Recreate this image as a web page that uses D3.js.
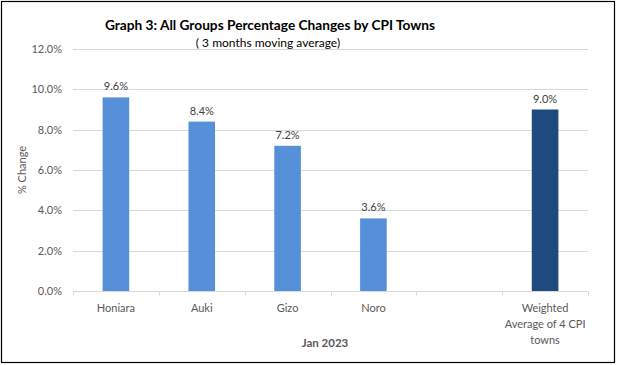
<!DOCTYPE html>
<html>
<head>
<meta charset="utf-8">
<script src="https://cdn.jsdelivr.net/npm/d3@7"></script>
<style>
  body { margin: 0; background: #fff; }
  text { font-family: Lato, "Open Sans", sans-serif; }
</style>
</head>
<body>
<div class="chart"></div>
<script>
// chart data
var categories = ["Honiara", "Auki", "Gizo", "Noro", "", "Weighted Average of 4 CPI towns"];
var values = [9.6, 8.4, 7.2, 3.6, null, 9.0];
var barColors = ["#5590d9", "#5590d9", "#5590d9", "#5590d9", "#5590d9", "#1f4a7e"];
var yTicks = [0, 2, 4, 6, 8, 10, 12];

var width = 617, height = 365;
var margin = { left: 73, right: 29, top: 49, bottom: 74 };

var svg = d3.select(".chart").append("svg")
  .attr("width", width).attr("height", height);

// outer frame
svg.append("rect")
  .attr("x", 1.5).attr("y", 1.5)
  .attr("width", width - 4).attr("height", height - 4)
  .attr("fill", "none").attr("stroke", "#000").attr("stroke-width", 1.2);

var x = d3.scaleBand()
  .domain(d3.range(categories.length))
  .range([margin.left, width - margin.right])
  .paddingInner(0.69).paddingOuter(0.345);

var y = d3.scaleLinear()
  .domain([0, 12])
  .range([height - margin.bottom, margin.top]);

// gridlines
svg.append("g").selectAll("line")
  .data(yTicks.filter(function (d) { return d > 0; }))
  .enter().append("line")
  .attr("x1", margin.left).attr("x2", width - margin.right)
  .attr("y1", function (d) { return Math.round(y(d)) + 0.5; })
  .attr("y2", function (d) { return Math.round(y(d)) + 0.5; })
  .attr("stroke", "#d9d9d9");

// y tick labels
svg.append("g").selectAll("text")
  .data(yTicks)
  .enter().append("text")
  .attr("x", 62)
  .attr("y", function (d) { return y(d) + 4; })
  .attr("text-anchor", "end")
  .style("font-size", "11px")
  .style("fill", "#595959")
  .text(function (d) { return d.toFixed(1) + "%"; });

// bars
svg.append("g").selectAll("rect")
  .data(values)
  .enter().filter(function (d) { return d != null; })
  .append("rect")
  .attr("x", function (d) { return x(values.indexOf(d)); })
  .attr("y", function (d) { return y(d); })
  .attr("width", x.bandwidth())
  .attr("height", function (d) { return y(0) - y(d); })
  .attr("fill", function (d) { return barColors[values.indexOf(d)]; });

// data labels
svg.append("g").selectAll("text")
  .data(values)
  .enter().filter(function (d) { return d != null; })
  .append("text")
  .attr("x", function (d) { return x(values.indexOf(d)) + x.bandwidth() / 2; })
  .attr("y", function (d) { return y(d) - 7; })
  .attr("text-anchor", "middle")
  .style("font-size", "11px")
  .style("fill", "#404040")
  .text(function (d) { return d.toFixed(1) + "%"; });

// x axis line + ticks
var axisY = Math.round(y(0)) + 0.5;
svg.append("line")
  .attr("x1", margin.left).attr("x2", width - margin.right)
  .attr("y1", axisY).attr("y2", axisY)
  .attr("stroke", "#d9d9d9");
var step = x.step();
var tickXs = d3.range(categories.length + 1).map(function (i) {
  return x(0) - x.paddingInner() * step / 2 + i * step;
});
svg.append("g").selectAll("line")
  .data(tickXs)
  .enter().append("line")
  .attr("x1", function (d) { return Math.round(d) + 0.5; })
  .attr("x2", function (d) { return Math.round(d) + 0.5; })
  .attr("y1", axisY).attr("y2", axisY + 4)
  .attr("stroke", "#d9d9d9");

// category labels (wrapped)
var wrapped = {
  "Weighted Average of 4 CPI towns": ["Weighted", "Average of 4 CPI", "towns"]
};
categories.forEach(function (c, i) {
  var lines = wrapped[c] || [c];
  var t = svg.append("text")
    .attr("text-anchor", "middle")
    .style("font-size", "11px")
    .style("fill", "#595959");
  lines.forEach(function (l, j) {
    t.append("tspan")
      .attr("x", x(i) + x.bandwidth() / 2)
      .attr("y", 312 + j * 16)
      .text(l);
  });
});

// titles
svg.append("text")
  .attr("x", 270).attr("y", 30)
  .attr("text-anchor", "middle")
  .style("font-size", "13.7px").style("font-weight", "bold")
  .style("fill", "#000")
  .text("Graph 3: All Groups Percentage Changes by CPI Towns");

svg.append("text")
  .attr("x", 268).attr("y", 47)
  .attr("text-anchor", "middle")
  .style("font-size", "12px")
  .style("fill", "#000")
  .text("( 3 months moving average)");

svg.append("text")
  .attr("x", 325).attr("y", 347)
  .attr("text-anchor", "middle")
  .style("font-size", "11.5px").style("font-weight", "bold")
  .style("fill", "#595959")
  .text("Jan 2023");

svg.append("text")
  .attr("transform", "translate(26,170) rotate(-90)")
  .attr("text-anchor", "middle")
  .style("font-size", "11px")
  .style("fill", "#595959")
  .text("% Change");
</script>
</body>
</html>
